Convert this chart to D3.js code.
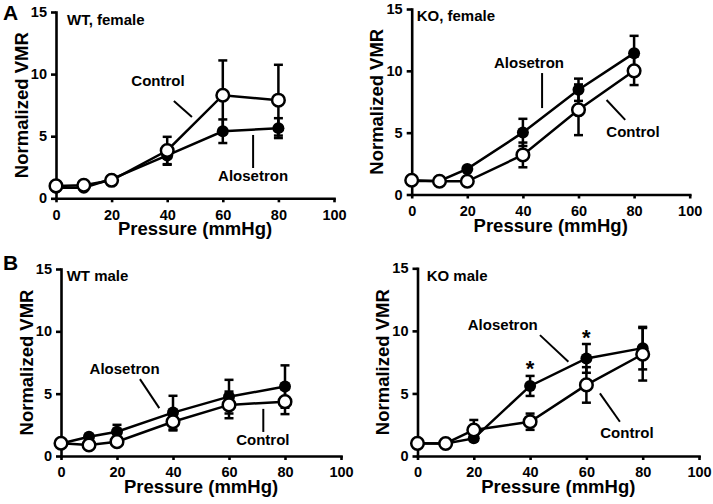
<!DOCTYPE html>
<html>
<head>
<meta charset="utf-8">
<script src="https://cdn.jsdelivr.net/npm/d3@7"></script>
<style>
  body { margin: 0; background: #fff; }
  text { font-family: "Liberation Sans", Arial, sans-serif; font-weight: bold; fill: #000; }
</style>
</head>
<body>
<div id="chart"></div>
<script>
// pressures (mmHg)
var pressure = [0, 10, 20, 40, 60, 80];
var xTicks = [0, 20, 40, 60, 80, 100];
var yTicks = [0, 5, 10, 15];

// WT female
var wtFemaleControl = [1.0, 1.05, 1.45, 3.85, 8.3, 7.9];
var wtFemaleControlErr = [0.1, 0.1, 0.2, 1.1, 2.8, 2.85];
var wtFemaleAlosetron = [0.85, 0.85, 1.55, 3.45, 5.4, 5.65];
var wtFemaleAlosetronErr = [0.1, 0.1, 0.2, 0.75, 0.95, 0.8];

// KO female
var koFemaleControl = [1.15, 1.07, 1.07, 3.2, 6.85, 10.0];
var koFemaleControlErr = [0.1, 0.1, 0.1, 1.0, 2.05, 1.15];
var koFemaleAlosetron = [1.1, 1.1, 2.07, 5.02, 8.47, 11.43];
var koFemaleAlosetronErr = [0.1, 0.1, 0.2, 1.1, 0.9, 1.4];

// WT male
var wtMaleControl = [1.02, 0.88, 1.15, 2.75, 4.1, 4.36];
var wtMaleControlErr = [0.1, 0.1, 0.2, 0.7, 1.07, 1.0];
var wtMaleAlosetron = [1.0, 1.55, 1.95, 3.48, 4.76, 5.57];
var wtMaleAlosetronErr = [0.1, 0.15, 0.55, 1.35, 1.35, 1.7];

// KO male
var koMaleControl = [1.01, 1.0, 2.08, 2.74, 5.68, 8.13];
var koMaleControlErr = [0.1, 0.1, 0.8, 0.65, 1.42, 2.1];
var koMaleAlosetron = [1.0, 1.0, 1.41, 5.6, 7.8, 8.62];
var koMaleAlosetronErr = [0.1, 0.1, 0.2, 0.8, 1.15, 1.7];
var koMaleStars = [40, 60];

var W = 713, H = 504;
var svg = d3.select("#chart").append("svg")
  .attr("width", W)
  .attr("height", H);
svg.append("rect").attr("width", W).attr("height", H).attr("fill", "#fff");

var panels = [
  {title: "WT, female", tx: 67, ty: 25, xr: [56, 334], yr: [198.3, 12],
   control: wtFemaleControl, controlErr: wtFemaleControlErr,
   alo: wtFemaleAlosetron, aloErr: wtFemaleAlosetronErr,
   notes: [
     {text: "Control", at: [36.7, 9.04], line: [[42.4, 7.83], [48.9, 6.55]]},
     {text: "Alosetron", at: [70.9, 1.39], line: [[70.9, 5.1], [70.9, 2.44]]}
   ]},
  {title: "KO, female", tx: 416.7, ty: 21, xr: [411.7, 689.7], yr: [194.5, 9],
   control: koFemaleControl, controlErr: koFemaleControlErr,
   alo: koFemaleAlosetron, aloErr: koFemaleAlosetronErr,
   notes: [
     {text: "Alosetron", at: [42.2, 10.23], line: [[46.9, 9.82], [46.9, 6.99]]},
     {text: "Control", at: [79.6, 4.65], line: [[70.1, 7.64], [76.8, 6.03]]}
   ]},
  {title: "WT male", tx: 66.7, ty: 281, xr: [61, 341], yr: [456, 269],
   control: wtMaleControl, controlErr: wtMaleControlErr,
   alo: wtMaleAlosetron, aloErr: wtMaleAlosetronErr,
   notes: [
     {text: "Alosetron", at: [22.7, 6.6], line: [[28.2, 6.17], [35.1, 3.84]]},
     {text: "Control", at: [72.1, 0.88], line: [[72.25, 3.78], [72.25, 1.93]]}
   ]},
  {title: "KO male", tx: 426.7, ty: 281, xr: [417.5, 699], yr: [456, 268.3],
   control: koMaleControl, controlErr: koMaleControlErr,
   alo: koMaleAlosetron, aloErr: koMaleAlosetronErr,
   stars: koMaleStars,
   notes: [
     {text: "Alosetron", at: [30.3, 10.06], line: [[43.5, 9.66], [53.6, 7.53]]},
     {text: "Control", at: [74.4, 1.44], line: [[64.8, 5.01], [71.9, 2.74]]}
   ]}
];

// panel letters
svg.append("text").attr("x", 3).attr("y", 20).style("font-size", "21px").text("A");
svg.append("text").attr("x", 3).attr("y", 270).style("font-size", "21px").text("B");

panels.forEach(function(p) {
  var x = d3.scaleLinear().domain([0, 100]).range(p.xr);
  var y = d3.scaleLinear().domain([0, 15]).range(p.yr);
  var g = svg.append("g");

  // axes
  var xAxis = g.append("g")
    .attr("transform", "translate(0," + y(0) + ")")
    .call(d3.axisBottom(x).tickValues(xTicks).tickSize(4).tickSizeOuter(0).tickPadding(7));
  var yAxis = g.append("g")
    .attr("transform", "translate(" + x(0) + ",0)")
    .call(d3.axisLeft(y).tickValues(yTicks).tickSize(5).tickSizeOuter(0).tickPadding(4));
  [xAxis, yAxis].forEach(function(a) {
    a.selectAll("path, line").attr("stroke", "#000").attr("stroke-width", 2.6);
    a.select(".domain").attr("stroke-linecap", "square");
    a.selectAll("text").attr("fill", "#000").style("font-size", "14.5px")
      .style("font-family", "'Liberation Sans', Arial, sans-serif").style("font-weight", "bold");
  });

  // axis titles
  g.append("text")
    .attr("x", (p.xr[0] + p.xr[1]) / 2)
    .attr("y", y(0) + 37)
    .attr("text-anchor", "middle")
    .style("font-size", "18.5px")
    .text("Pressure (mmHg)");
  g.append("text")
    .attr("transform", "translate(" + (x(0) - 28.5) + "," + (y(7.5)) + ") rotate(-90)")
    .attr("text-anchor", "middle")
    .style("font-size", "18.5px")
    .text("Normalized VMR");

  g.append("text").attr("x", p.tx).attr("y", p.ty).style("font-size", "15px").text(p.title);

  var line = d3.line().x(function(d, i) { return x(pressure[i]); }).y(function(d) { return y(d); });

  g.append("path").attr("d", line(p.alo)).attr("fill", "none").attr("stroke", "#000").attr("stroke-width", 2.5);
  g.append("path").attr("d", line(p.control)).attr("fill", "none").attr("stroke", "#000").attr("stroke-width", 2.5);

  // error bars
  function errBars(vals, errs) {
    var eb = g.append("g").attr("stroke", "#000").attr("stroke-width", 2.5);
    vals.forEach(function(v, i) {
      var cx = x(pressure[i]);
      eb.append("line").attr("x1", cx).attr("x2", cx).attr("y1", y(v - errs[i])).attr("y2", y(v + errs[i]));
      eb.append("line").attr("x1", cx - 4.5).attr("x2", cx + 4.5).attr("y1", y(v + errs[i])).attr("y2", y(v + errs[i]));
      eb.append("line").attr("x1", cx - 4.5).attr("x2", cx + 4.5).attr("y1", y(v - errs[i])).attr("y2", y(v - errs[i]));
    });
  }
  errBars(p.alo, p.aloErr);
  errBars(p.control, p.controlErr);

  g.selectAll(".alo").data(p.alo).enter().append("circle")
    .attr("cx", function(d, i) { return x(pressure[i]); })
    .attr("cy", function(d) { return y(d); })
    .attr("r", 6)
    .attr("fill", "#000");
  g.selectAll(".ctl").data(p.control).enter().append("circle")
    .attr("cx", function(d, i) { return x(pressure[i]); })
    .attr("cy", function(d) { return y(d); })
    .attr("r", 6.3)
    .attr("fill", "#fff")
    .attr("stroke", "#000")
    .attr("stroke-width", 2.5);

  // significance stars above alosetron error bars
  if (p.stars) {
    p.stars.forEach(function(s) {
      var i = pressure.indexOf(s);
      g.append("text")
        .attr("x", x(s))
        .attr("y", y(p.alo[i] + p.aloErr[i]) + 0.5)
        .attr("text-anchor", "middle")
        .style("font-size", "22px")
        .text("*");
    });
  }

  // labels with leader lines
  p.notes.forEach(function(n) {
    g.append("text")
      .attr("x", x(n.at[0]))
      .attr("y", y(n.at[1]))
      .attr("text-anchor", "middle")
      .style("font-size", "15px")
      .text(n.text);
    g.append("line")
      .attr("x1", x(n.line[0][0])).attr("y1", y(n.line[0][1]))
      .attr("x2", x(n.line[1][0])).attr("y2", y(n.line[1][1]))
      .attr("stroke", "#000").attr("stroke-width", 2);
  });
});
</script>
</body>
</html>
